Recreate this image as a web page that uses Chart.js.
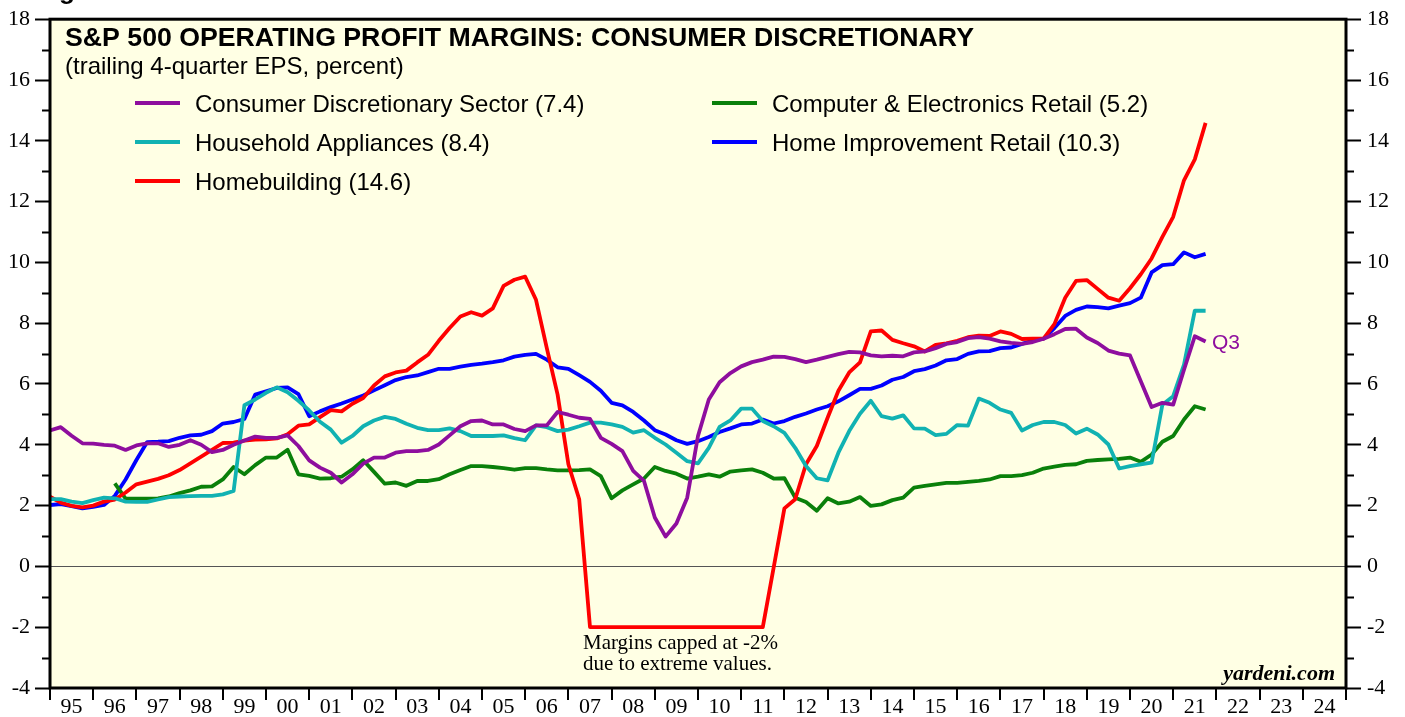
<!DOCTYPE html>
<html>
<head>
<meta charset="utf-8">
<script src="https://cdn.jsdelivr.net/npm/chart.js@4.4.0/dist/chart.umd.min.js"></script>
<style>
  html, body { margin: 0; padding: 0; background: #fff; }
  #wrap { width: 1405px; height: 717px; position: relative; }
</style>
</head>
<body>
<div id="wrap"><canvas id="myChart"></canvas></div>
<script>
// year labels under the x axis (1995 .. 2024)
var yearLabels = ['95','96','97','98','99','00','01','02','03','04','05','06','07','08','09',
                  '10','11','12','13','14','15','16','17','18','19','20','21','22','23','24'];

// quarterly values, first point = end of 1994 Q4, last = 2021 Q3
var consDisc = [4.47,4.58,4.30,4.05,4.04,4.00,3.97,3.83,3.98,4.05,
  4.05,3.93,4.00,4.15,4.00,3.76,3.83,4.00,4.14,4.27,
  4.23,4.23,4.31,3.96,3.49,3.25,3.08,2.76,3.03,3.38,
  3.58,3.58,3.74,3.79,3.79,3.83,4.01,4.31,4.61,4.78,
  4.80,4.67,4.67,4.52,4.45,4.64,4.64,5.08,4.99,4.89,
  4.85,4.23,4.03,3.79,3.14,2.81,1.61,0.98,1.41,2.26,
  4.29,5.49,6.06,6.36,6.58,6.72,6.80,6.90,6.89,6.82,
  6.72,6.80,6.89,6.98,7.06,7.04,6.94,6.91,6.93,6.91,
  7.04,7.07,7.18,7.32,7.38,7.51,7.54,7.49,7.40,7.35,
  7.32,7.38,7.49,7.64,7.81,7.82,7.53,7.35,7.10,7.00,
  6.94,6.09,5.24,5.38,5.32,6.47,7.57,7.40];

var householdApp = [2.21,2.21,2.13,2.08,2.18,2.26,2.24,2.13,2.12,2.12,
  2.20,2.28,2.30,2.31,2.32,2.32,2.37,2.48,5.30,5.49,
  5.71,5.89,5.73,5.45,5.13,4.76,4.50,4.07,4.29,4.61,
  4.80,4.92,4.85,4.69,4.56,4.48,4.48,4.54,4.45,4.29,
  4.29,4.29,4.31,4.22,4.15,4.64,4.58,4.45,4.50,4.61,
  4.73,4.73,4.67,4.59,4.40,4.48,4.23,4.01,3.74,3.46,
  3.39,3.90,4.59,4.80,5.19,5.19,4.78,4.61,4.39,3.90,
  3.30,2.90,2.83,3.74,4.45,5.02,5.45,4.94,4.86,4.97,
  4.54,4.53,4.32,4.36,4.65,4.63,5.52,5.38,5.16,5.05,
  4.47,4.65,4.75,4.75,4.65,4.37,4.53,4.34,4.01,3.22,
  3.30,3.36,3.41,5.32,5.60,6.64,8.41,8.41];

// capped at -2 during 2007-2011
var homebuilding = [2.29,2.10,1.99,1.94,2.00,2.13,2.20,2.43,2.70,2.79,
  2.88,3.00,3.17,3.39,3.61,3.83,4.06,4.07,4.14,4.17,
  4.18,4.21,4.35,4.63,4.67,4.91,5.14,5.10,5.35,5.54,
  5.95,6.25,6.38,6.44,6.71,6.96,7.42,7.84,8.22,8.36,
  8.25,8.49,9.23,9.43,9.53,8.77,7.18,5.65,3.36,2.21,
  -2,-2,-2,-2,-2,-2,-2,-2,-2,-2,
  -2,-2,-2,-2,-2,-2,-2,-0.05,1.91,2.21,
  3.36,3.96,4.89,5.78,6.38,6.71,7.73,7.76,7.45,7.34,
  7.24,7.07,7.29,7.34,7.42,7.54,7.59,7.58,7.73,7.65,
  7.48,7.49,7.49,7.97,8.84,9.39,9.42,9.13,8.84,8.74,
  9.15,9.61,10.13,10.84,11.50,12.70,13.39,14.59];

var compElec = [null,null,null,null,null,null,2.73,2.23,2.23,2.23,
  2.24,2.30,2.41,2.50,2.62,2.63,2.86,3.27,3.03,3.33,
  3.58,3.58,3.84,3.03,2.98,2.89,2.90,2.95,3.19,3.49,
  3.11,2.72,2.76,2.65,2.81,2.81,2.87,3.03,3.17,3.30,
  3.30,3.27,3.23,3.18,3.23,3.23,3.19,3.16,3.16,3.17,
  3.19,2.97,2.24,2.50,2.70,2.89,3.27,3.14,3.05,2.89,
  2.95,3.03,2.95,3.12,3.16,3.19,3.08,2.89,2.90,2.26,
  2.12,1.83,2.24,2.07,2.13,2.28,1.99,2.04,2.18,2.26,
  2.59,2.65,2.70,2.75,2.75,2.78,2.81,2.86,2.97,2.97,
  3.00,3.08,3.22,3.28,3.34,3.36,3.47,3.50,3.52,3.54,
  3.58,3.44,3.68,4.10,4.29,4.83,5.27,5.16];

var homeImp = [2.02,2.05,1.98,1.91,1.96,2.02,2.32,2.86,3.50,4.09,
  4.10,4.12,4.23,4.31,4.33,4.45,4.70,4.75,4.85,5.65,
  5.76,5.87,5.89,5.67,4.94,5.10,5.24,5.36,5.49,5.62,
  5.79,5.96,6.13,6.23,6.28,6.39,6.50,6.50,6.57,6.63,
  6.67,6.72,6.78,6.90,6.96,6.99,6.80,6.55,6.50,6.29,
  6.07,5.78,5.38,5.30,5.08,4.80,4.48,4.34,4.15,4.03,
  4.12,4.26,4.42,4.54,4.67,4.70,4.83,4.70,4.78,4.92,
  5.03,5.16,5.27,5.43,5.63,5.84,5.84,5.95,6.14,6.23,
  6.42,6.49,6.61,6.78,6.82,6.99,7.07,7.08,7.18,7.20,
  7.32,7.43,7.49,7.84,8.24,8.44,8.55,8.53,8.49,8.58,
  8.66,8.84,9.67,9.91,9.94,10.33,10.17,10.28];

// x position of each quarter (end of quarter, in years)
var quarterEnds = [];
for (var q = 0; q < consDisc.length; q++) {
    quarterEnds.push(1995 + q * 0.25);
}

function toPoints(values){
    return values.map(function(v, i){ return {x: quarterEnds[i], y: v}; });
}

function makeSet(label, values, color, col, row){
    return {
        label: label,
        data: toPoints(values),
        borderColor: color,
        backgroundColor: color,
        borderWidth: 3.8,
        pointRadius: 0,
        tension: 0,
        borderJoinStyle: 'round',
        spanGaps: false,
        legendCol: col,
        legendRow: row
    };
}

var serif = 'Liberation Serif';
var sans = 'Liberation Sans';

// background, frame, minor ticks, texts, legend
var decor = {
    id: 'decor',
    beforeDraw: function(chart){
        var c = chart.ctx, a = chart.chartArea;
        c.save();
        c.fillStyle = '#FFFFE4';
        c.fillRect(a.left, a.top, a.right - a.left, a.bottom - a.top);
        c.restore();
    },
    afterDraw: function(chart){
        var c = chart.ctx, a = chart.chartArea, ys = chart.scales.y;
        c.save();

        // frame
        c.strokeStyle = '#000';
        c.lineWidth = 3;
        c.strokeRect(a.left, a.top, a.right - a.left, a.bottom - a.top);

        // minor ticks on both y axes
        c.lineWidth = 2;
        for (var v = -3; v <= 17; v += 2) {
            var py = Math.round(ys.getPixelForValue(v)) + 0.5;
            c.beginPath();
            c.moveTo(a.left - 8, py); c.lineTo(a.left, py);
            c.moveTo(a.right, py); c.lineTo(a.right + 8, py);
            c.stroke();
        }

        // cut off figure heading at the very top
        c.fillStyle = '#000';
        c.font = 'bold 26px "' + sans + '"';
        c.textAlign = 'left';
        c.textBaseline = 'alphabetic';
        c.fillText('Figure 5.', 36, -1);

        // title + subtitle
        c.font = 'bold 26.7px "' + sans + '"';
        c.fillText('S&P 500 OPERATING PROFIT MARGINS: CONSUMER DISCRETIONARY', 65, 46);
        c.font = '24px "' + sans + '"';
        c.fillText('(trailing 4-quarter EPS, percent)', 65, 74);

        // legend
        var colX = [135, 712], rowY = [103, 142, 181];
        chart.data.datasets.forEach(function(ds){
            var x = colX[ds.legendCol], y = rowY[ds.legendRow];
            c.strokeStyle = ds.borderColor;
            c.lineWidth = 4;
            c.beginPath();
            c.moveTo(x, y); c.lineTo(x + 45, y);
            c.stroke();
            c.fillStyle = '#000';
            c.font = '24px "' + sans + '"';
            c.fillText(ds.label, x + 60, y + 9);
        });

        // Q3 marker
        c.fillStyle = '#8E0E9E';
        c.font = '21px "' + sans + '"';
        c.fillText('Q3', 1212, 349);

        // note about the cap
        c.fillStyle = '#000';
        c.font = '21px "' + serif + '"';
        c.fillText('Margins capped at -2%', 583, 649);
        c.fillText('due to extreme values.', 583, 670);

        // source
        c.font = 'bold italic 22px "' + serif + '"';
        c.textAlign = 'right';
        c.fillText('yardeni.com', 1335, 680);

        c.restore();
    }
};

function zeroLine(ctx){
    return ctx.tick && ctx.tick.value === 0 ? '#555555' : 'rgba(0,0,0,0)';
}

var ctx = document.getElementById("myChart");
var myChart = new Chart(ctx, {
    type: 'line',
    data: {
        datasets: [
            makeSet('Consumer Discretionary Sector (7.4)', consDisc, '#8E0E9E', 0, 0),
            makeSet('Household Appliances (8.4)', householdApp, '#11B2B2', 0, 1),
            makeSet('Homebuilding (14.6)', homebuilding, '#FF0000', 0, 2),
            makeSet('Computer & Electronics Retail (5.2)', compElec, '#0A800A', 1, 0),
            makeSet('Home Improvement Retail (10.3)', homeImp, '#0000FF', 1, 1)
        ]
    },
    options: {
        responsive: true,
        maintainAspectRatio: false,
        animation: false,
        layout: { padding: { top: 16, left: 0, right: 0, bottom: 0 } },
        plugins: {
            legend: { display: false },
            tooltip: { enabled: false },
            title: { display: false }
        },
        scales: {
            x: {
                type: 'linear',
                min: 1995,
                max: 2025,
                afterFit: function(s){ s.height = 29; },
                afterBuildTicks: function(s){
                    s.ticks = yearLabels.map(function(l, i){ return {value: 1995.5 + i}; });
                },
                ticks: {
                    autoSkip: false,
                    maxRotation: 0,
                    color: '#000',
                    padding: -6,
                    font: { family: serif, size: 22 },
                    callback: function(v, i){ return yearLabels[i]; }
                },
                grid: { offset: true, drawOnChartArea: false, color: '#000', lineWidth: 2, tickLength: 12 },
                border: { display: false }
            },
            y: {
                position: 'left',
                min: -4,
                max: 18,
                afterFit: function(s){ s.width = 50; },
                ticks: { stepSize: 2, color: '#000', padding: 5, font: { family: serif, size: 22 } },
                grid: { color: zeroLine, lineWidth: 1, tickColor: '#000', tickWidth: 2, tickLength: 15 },
                border: { display: false }
            },
            y2: {
                position: 'right',
                min: -4,
                max: 18,
                afterFit: function(s){ s.width = 59; },
                ticks: { stepSize: 2, color: '#000', padding: 6, font: { family: serif, size: 22 } },
                grid: { drawOnChartArea: false, tickColor: '#000', tickWidth: 2, tickLength: 15 },
                border: { display: false }
            }
        }
    },
    plugins: [decor]
});
</script>
</body>
</html>
